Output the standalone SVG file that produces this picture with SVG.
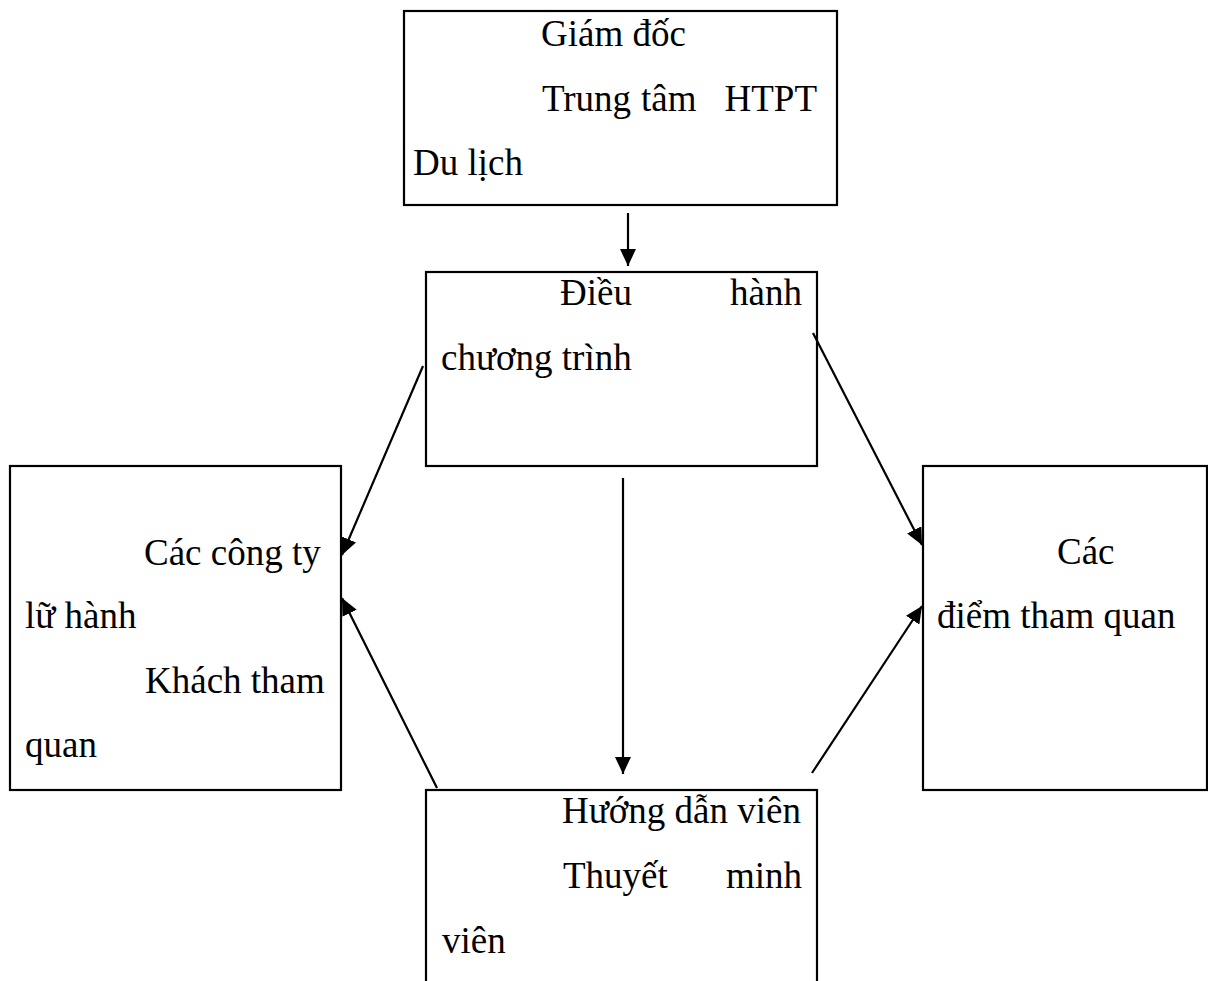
<svg xmlns="http://www.w3.org/2000/svg" width="1208" height="981" viewBox="0 0 1208 981">
<style>
.box{fill:#fff;stroke:#000;stroke-width:2.2}
.t{font-family:"Liberation Serif","Times New Roman",serif;font-size:37px;fill:#000}
.c{stroke:#000;stroke-width:2.2;fill:none;marker-end:url(#ah)}
</style>
<defs>
<marker id="ah" markerUnits="userSpaceOnUse" markerWidth="18" markerHeight="16" refX="17" refY="8" orient="auto">
<path d="M0,0 L17,8 L0,16 Z" fill="#000"/>
</marker>
</defs>
<rect width="1208" height="981" fill="#fff"/>
<g id="giam-doc">
<rect class="box" x="404" y="11" width="433" height="194"/>
<text class="t" x="541" y="46">Giám đốc</text>
<text class="t" x="542" y="111">Trung</text>
<text class="t" x="641" y="111">tâm</text>
<text class="t" x="817" y="111" text-anchor="end">HTPT</text>
<text class="t" x="413" y="175">Du lịch</text>
</g>
<g id="dieu-hanh">
<rect class="box" x="426" y="272" width="391" height="194"/>
<text class="t" x="560" y="305">Điều</text>
<text class="t" x="802" y="305" text-anchor="end">hành</text>
<text class="t" x="441" y="370">chương trình</text>
</g>
<g id="cong-ty">
<rect class="box" x="10" y="466" width="331" height="324"/>
<text class="t" x="144" y="565">Các công ty</text>
<text class="t" x="25" y="628">lữ hành</text>
<text class="t" x="145" y="693">Khách tham</text>
<text class="t" x="25" y="757">quan</text>
</g>
<g id="diem-tham-quan">
<rect class="box" x="923" y="466" width="284" height="324"/>
<text class="t" x="1057" y="564">Các</text>
<text class="t" x="937" y="628">điểm tham quan</text>
</g>
<g id="huong-dan-vien">
<rect class="box" x="426" y="790" width="391" height="220"/>
<text class="t" x="562" y="823">Hướng dẫn viên</text>
<text class="t" x="563" y="888">Thuyết</text>
<text class="t" x="802" y="888" text-anchor="end">minh</text>
<text class="t" x="442" y="953">viên</text>
</g>
<g id="connectors">
<line class="c" x1="628" y1="213" x2="628" y2="266"/>
<line class="c" x1="423" y1="366" x2="342" y2="555"/>
<line class="c" x1="813" y1="333" x2="922" y2="545"/>
<line class="c" x1="623" y1="478" x2="623" y2="774"/>
<line class="c" x1="437" y1="788" x2="342" y2="598"/>
<line class="c" x1="812" y1="773" x2="922" y2="606"/>
</g>
</svg>
